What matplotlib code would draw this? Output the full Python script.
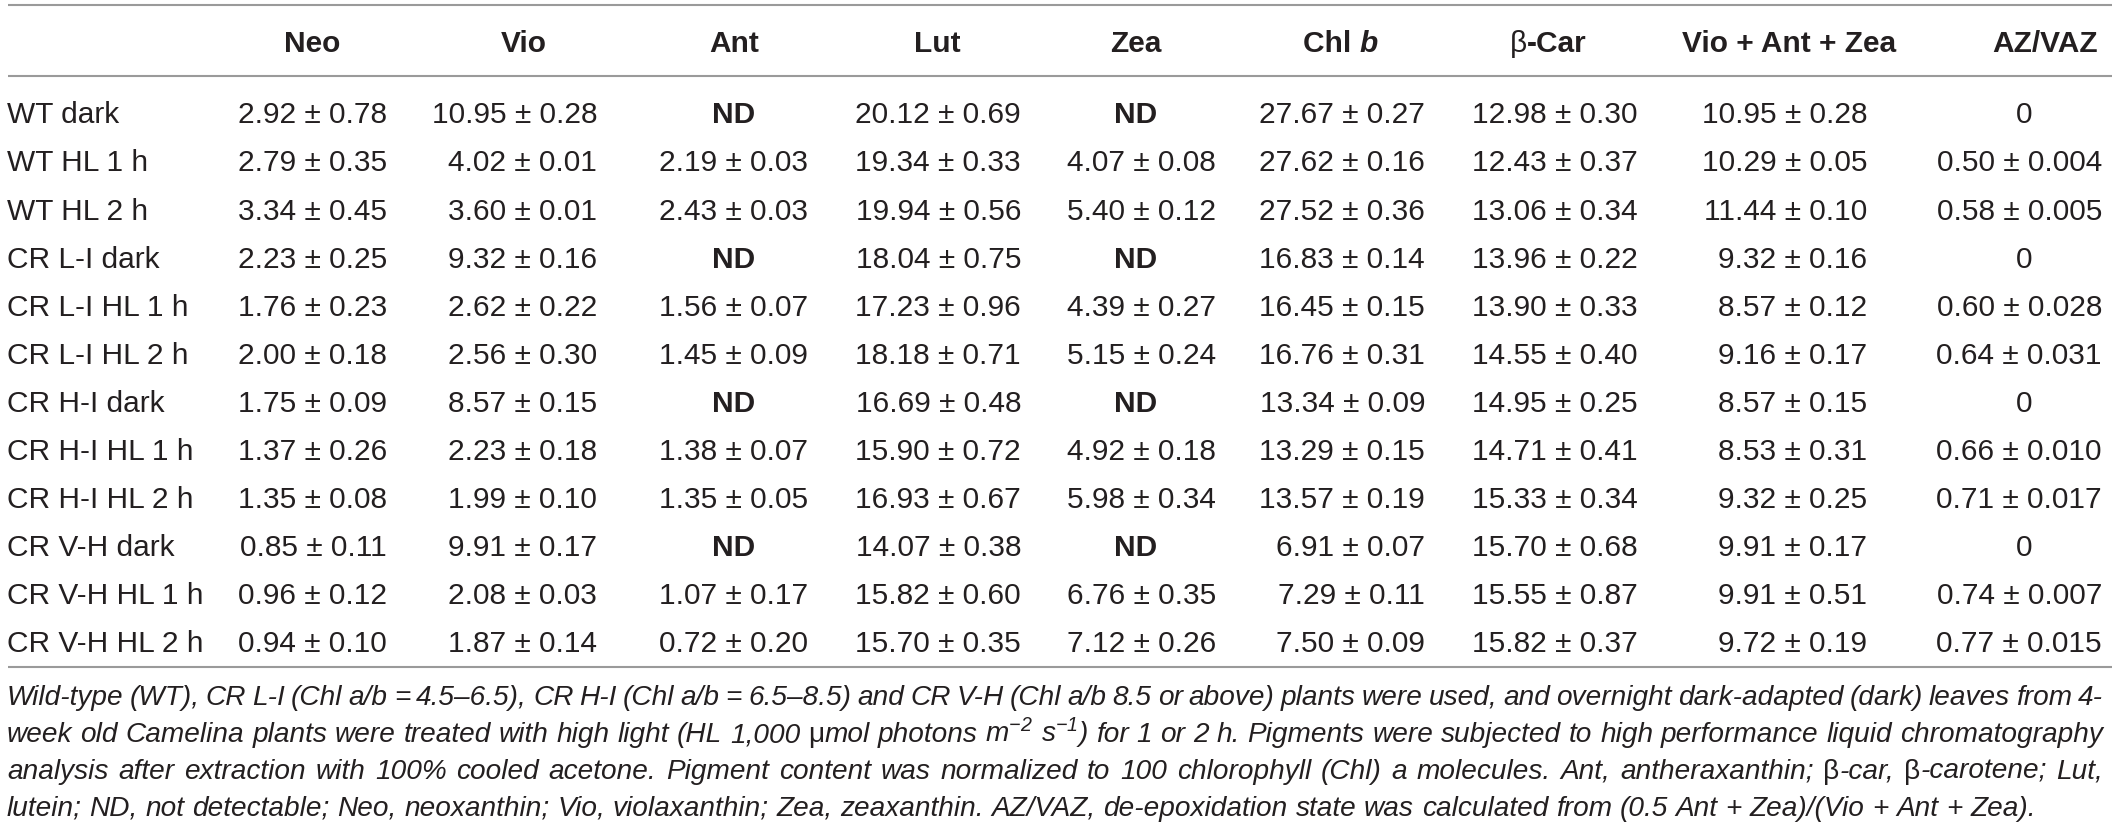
import matplotlib
matplotlib.use('Agg')
import matplotlib.pyplot as plt

plt.rcParams['font.family'] = ['Liberation Sans', 'DejaVu Sans']
plt.rcParams['mathtext.fontset'] = 'custom'
plt.rcParams['mathtext.rm'] = 'Liberation Sans:italic'
plt.rcParams['mathtext.it'] = 'Liberation Sans:italic'

# 표 데이터 (None = ND)
row_labels = ['WT dark', 'WT HL 1 h', 'WT HL 2 h',
              'CR L-I dark', 'CR L-I HL 1 h', 'CR L-I HL 2 h',
              'CR H-I dark', 'CR H-I HL 1 h', 'CR H-I HL 2 h',
              'CR V-H dark', 'CR V-H HL 1 h', 'CR V-H HL 2 h']
col_headers = ['Neo', 'Vio', 'Ant', 'Lut', 'Zea', 'Chl b', 'β-Car', 'Vio + Ant + Zea', 'AZ/VAZ']

neo_mean = [2.92, 2.79, 3.34, 2.23, 1.76, 2.00, 1.75, 1.37, 1.35, 0.85, 0.96, 0.94]
neo_sd = [0.78, 0.35, 0.45, 0.25, 0.23, 0.18, 0.09, 0.26, 0.08, 0.11, 0.12, 0.10]
vio_mean = [10.95, 4.02, 3.60, 9.32, 2.62, 2.56, 8.57, 2.23, 1.99, 9.91, 2.08, 1.87]
vio_sd = [0.28, 0.01, 0.01, 0.16, 0.22, 0.30, 0.15, 0.18, 0.10, 0.17, 0.03, 0.14]
ant_mean = [None, 2.19, 2.43, None, 1.56, 1.45, None, 1.38, 1.35, None, 1.07, 0.72]
ant_sd = [None, 0.03, 0.03, None, 0.07, 0.09, None, 0.07, 0.05, None, 0.17, 0.20]
lut_mean = [20.12, 19.34, 19.94, 18.04, 17.23, 18.18, 16.69, 15.90, 16.93, 14.07, 15.82, 15.70]
lut_sd = [0.69, 0.33, 0.56, 0.75, 0.96, 0.71, 0.48, 0.72, 0.67, 0.38, 0.60, 0.35]
zea_mean = [None, 4.07, 5.40, None, 4.39, 5.15, None, 4.92, 5.98, None, 6.76, 7.12]
zea_sd = [None, 0.08, 0.12, None, 0.27, 0.24, None, 0.18, 0.34, None, 0.35, 0.26]
chlb_mean = [27.67, 27.62, 27.52, 16.83, 16.45, 16.76, 13.34, 13.29, 13.57, 6.91, 7.29, 7.50]
chlb_sd = [0.27, 0.16, 0.36, 0.14, 0.15, 0.31, 0.09, 0.15, 0.19, 0.07, 0.11, 0.09]
bcar_mean = [12.98, 12.43, 13.06, 13.96, 13.90, 14.55, 14.95, 14.71, 15.33, 15.70, 15.55, 15.82]
bcar_sd = [0.30, 0.37, 0.34, 0.22, 0.33, 0.40, 0.25, 0.41, 0.34, 0.68, 0.87, 0.37]
vaz_mean = [10.95, 10.29, 11.44, 9.32, 8.57, 9.16, 8.57, 8.53, 9.32, 9.91, 9.91, 9.72]
vaz_sd = [0.28, 0.05, 0.10, 0.16, 0.12, 0.17, 0.15, 0.31, 0.25, 0.17, 0.51, 0.19]
azvaz_mean = [0, 0.50, 0.58, 0, 0.60, 0.64, 0, 0.66, 0.71, 0, 0.74, 0.77]
azvaz_sd = [None, 0.004, 0.005, None, 0.028, 0.031, None, 0.010, 0.017, None, 0.007, 0.015]

columns = [(neo_mean, neo_sd, 2), (vio_mean, vio_sd, 2), (ant_mean, ant_sd, 2),
           (lut_mean, lut_sd, 2), (zea_mean, zea_sd, 2), (chlb_mean, chlb_sd, 2),
           (bcar_mean, bcar_sd, 2), (vaz_mean, vaz_sd, 2), (azvaz_mean, azvaz_sd, 3)]

caption_lines = [
    "Wild-type (WT), CR L-I (Chl a/b = 4.5–6.5), CR H-I (Chl a/b = 6.5–8.5) and CR V-H (Chl a/b 8.5 or above) plants were used, and overnight dark-adapted (dark) leaves from 4-",
    "week old Camelina plants were treated with high light (HL 1,000 μmol photons m$^{-2}$ s$^{-1}$) for 1 or 2 h. Pigments were subjected to high performance liquid chromatography",
    "analysis after extraction with 100% cooled acetone. Pigment content was normalized to 100 chlorophyll (Chl) a molecules. Ant, antheraxanthin; β-car, β-carotene; Lut,",
    "lutein; ND, not detectable; Neo, neoxanthin; Vio, violaxanthin; Zea, zeaxanthin. AZ/VAZ, de-epoxidation state was calculated from (0.5 Ant + Zea)/(Vio + Ant + Zea).",
]

# 레이아웃 (픽셀 좌표)
W, H = 2119, 829
header_x = [312, 524, 734, 937, 1136, 1340, 1548, 1789, 2045]
value_right = [387, 597, 808, 1021, 1216, 1425, 1638, 1867, 2102]
zero_x = 2024
row_y0, row_dy = 123.3, 48.1
txt_color = '#231f20'
rule_color = '#9a9a9a'
fs = 21.5
upright = 'βμ'  # 그리스 문자는 기울이지 않음

fig = plt.figure(figsize=(W / 100, H / 100), dpi=100)
ax = fig.add_axes([0, 0, 1, 1])
ax.set_xlim(0, W)
ax.set_ylim(H, 0)
ax.axis('off')

for y in [5.5, 77, 668]:
    ax.plot([8, 2112], [y, y], color=rule_color, lw=1.5, solid_capstyle='butt')

fig.canvas.draw()
renderer = fig.canvas.get_renderer()


def text_width(s, **kw):
    t = ax.text(0, 0, s, **kw)
    w = t.get_window_extent(renderer).width
    t.remove()
    return w


def draw_parts(x, y, parts, draw=True):
    # parts: [(text, dict(style)), ...] 왼쪽부터 이어서 그림
    for s, kw in parts:
        w = text_width(s, **kw)
        if draw:
            ax.text(x, y, s, color=txt_color, ha='left', va='baseline', **kw)
        x += w
    return x


# 헤더
bold = dict(fontsize=fs, fontweight='bold')
for cx, name in zip(header_x, col_headers):
    if name == 'Chl b':
        parts = [('Chl ', bold), ('b', dict(fontsize=fs, fontweight='bold', fontstyle='italic'))]
    elif name.startswith('β'):
        parts = [('β', dict(fontsize=fs)), (name[1:], bold)]
    else:
        parts = [(name, bold)]
    total = draw_parts(0, 0, parts, draw=False)
    draw_parts(cx - total / 2, 52, parts)

# 본문
for i, label in enumerate(row_labels):
    y = row_y0 + i * row_dy
    ax.text(7, y, label, fontsize=fs, color=txt_color, ha='left', va='baseline')
    for j, (means, sds, nd) in enumerate(columns):
        m, s = means[i], sds[i]
        if m is None:
            ax.text(header_x[j], y, 'ND', fontsize=fs, fontweight='bold', color=txt_color,
                    ha='center', va='baseline')
        elif s is None:
            ax.text(zero_x, y, f'{m:g}', fontsize=fs, color=txt_color, ha='center', va='baseline')
        else:
            ax.text(value_right[j], y, f'{m:.2f} ± {s:.{nd}f}', fontsize=fs, color=txt_color,
                    ha='right', va='baseline')

# 캡션 (양쪽 정렬)
cap_fs = 20.2
ital = dict(fontsize=cap_fs, fontstyle='italic')
roman = dict(fontsize=cap_fs)
cap_left, cap_right = 7, 2103
cap_y = [705, 742, 779, 816]
space_w = text_width('x x', **ital) - text_width('xx', **ital)


def word_parts(w):
    if w and w[0] in upright:
        return [(w[0], roman), (w[1:], ital)]
    return [(w, ital)]


for k, line in enumerate(caption_lines):
    words = [word_parts(w) for w in line.split(' ')]
    widths = [draw_parts(0, 0, p, draw=False) for p in words]
    if k < len(caption_lines) - 1:
        gap = (cap_right - cap_left - sum(widths)) / (len(words) - 1)
    else:
        gap = space_w
    x = cap_left
    for p, wd in zip(words, widths):
        draw_parts(x, cap_y[k], p)
        x += wd + gap

fig.savefig('out.png', dpi=100)
